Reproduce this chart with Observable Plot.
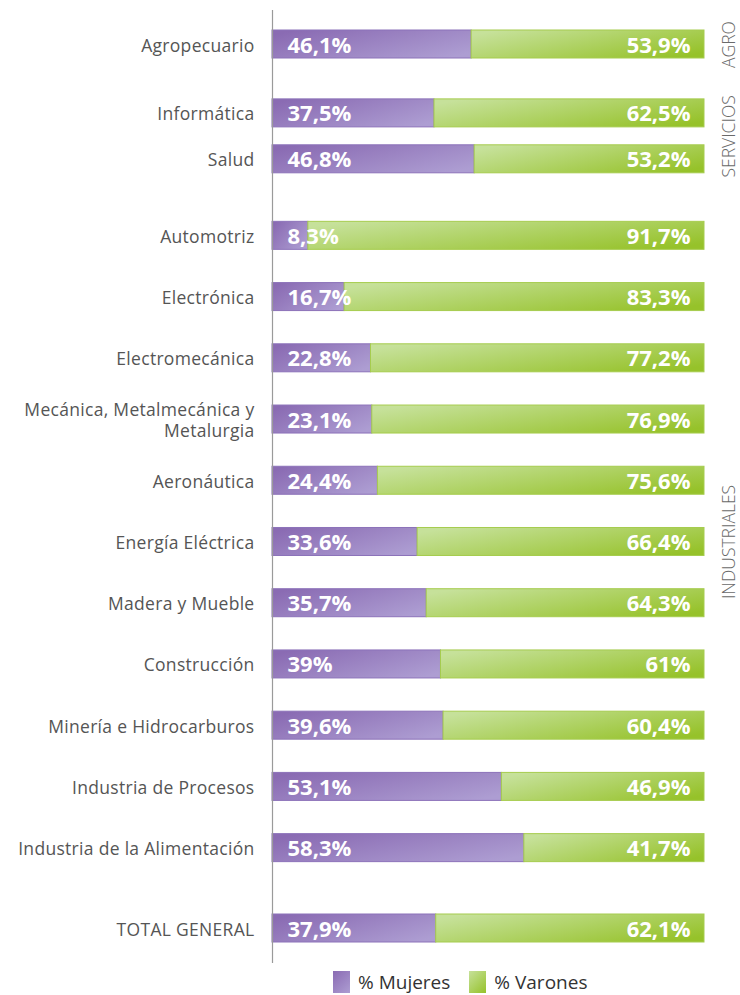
<!DOCTYPE html>
<html>
<head>
<meta charset="utf-8">
<script src="https://cdn.jsdelivr.net/npm/d3@7"></script>
<script src="https://cdn.jsdelivr.net/npm/@observablehq/plot@0.6"></script>
<style>
  body { margin: 0; background: #fff; font-family: 'Open Sans', sans-serif; }
  #chart svg { display: block; }
  #chart g[aria-label="y-axis tick label"] text { letter-spacing: 0.3px; }
  #legend { display: flex; align-items: center; margin-left: 333px; height: 27px; font-size: 19px; color: #333; }
  .sw { width: 17px; height: 22px; display: inline-block; margin-right: 8px; }
  .item { display: flex; align-items: center; margin-right: 19px; }
</style>
</head>
<body>
<div id="chart"></div>
<div id="legend">
  <span class="item"><span class="sw" style="background:linear-gradient(135deg,#8a6bb3,#ad9dd2)"></span>% Mujeres</span>
  <span class="item"><span class="sw" style="background:linear-gradient(135deg,#c6e19a,#96c22a)"></span>% Varones</span>
</div>
<script>
// ---- data ----
const categories = [
  "Agropecuario", "Informática", "Salud", "Automotriz", "Electrónica",
  "Electromecánica", "Mecánica, Metalmecánica y\nMetalurgia", "Aeronáutica",
  "Energía Eléctrica", "Madera y Mueble", "Construcción",
  "Minería e Hidrocarburos", "Industria de Procesos",
  "Industria de la Alimentación", "TOTAL GENERAL"
];
const mujeres = [46.1, 37.5, 46.8, 8.3, 16.7, 22.8, 23.1, 24.4, 33.6, 35.7, 39, 39.6, 53.1, 58.3, 37.9];
const varones = [53.9, 62.5, 53.2, 91.7, 83.3, 77.2, 76.9, 75.6, 66.4, 64.3, 61, 60.4, 46.9, 41.7, 62.1];
const groupOf = ["AGRO", "SERVICIOS", "SERVICIOS", "INDUSTRIALES", "INDUSTRIALES", "INDUSTRIALES",
  "INDUSTRIALES", "INDUSTRIALES", "INDUSTRIALES", "INDUSTRIALES", "INDUSTRIALES",
  "INDUSTRIALES", "INDUSTRIALES", "INDUSTRIALES", null];
const groups = ["AGRO", "SERVICIOS", "INDUSTRIALES"];

// ---- layout (number of empty fine slots before each row) ----
const rowGaps = [0, 17, 11, 19, 15, 15, 15, 15, 15, 15, 15, 15, 15, 15, 20];

const domain = [];
categories.forEach((c, i) => {
  for (let k = 0; k < rowGaps[i]; k++) domain.push(`_sp${i}_${k}`);
  domain.push(c);
});

const rows = categories.map((c, i) => ({cat: c, m: mujeres[i], v: varones[i], g: groupOf[i]}));

const groupRows = groups.map(g => {
  const idx = categories.map((c, i) => i).filter(i => groupOf[i] === g);
  const a = domain.indexOf(categories[idx[0]]);
  const b = domain.indexOf(categories[idx[idx.length - 1]]);
  return {g, slot: domain[Math.round((a + b) / 2)]};
});

const fmt = v => String(v).replace(".", ",") + "%";

const defsMark = () => {
  const g = d3.create("svg:g");
  const defs = g.append("defs");
  const pg = defs.append("linearGradient").attr("id", "gPurple")
    .attr("x1", "0").attr("y1", "0.2").attr("x2", "1").attr("y2", "0.8");
  pg.append("stop").attr("offset", "0").attr("stop-color", "#8a6bb3");
  pg.append("stop").attr("offset", "1").attr("stop-color", "#ad9dd2");
  const gg = defs.append("linearGradient").attr("id", "gGreen")
    .attr("x1", "0").attr("y1", "0.2").attr("x2", "1").attr("y2", "0.8");
  gg.append("stop").attr("offset", "0").attr("stop-color", "#c6e19a");
  gg.append("stop").attr("offset", "1").attr("stop-color", "#96c22a");
  return g.node();
};

const barH = 28;
const height = 968;
const marginTop = 10, marginBottom = 5;
const firstCenter = 44, lastCenter = 928;
const step = (lastCenter - firstCenter) / (domain.length - 1);
const bandsSpan = domain.length * step;
const insetTop = firstCenter - step / 2 - marginTop;
const insetBottom = (height - marginBottom - marginTop) - insetTop - bandsSpan;
const negInset = -(barH - step) / 2;

const chart = Plot.plot({
  width: 740,
  height,
  marginLeft: 272,
  marginRight: 36,
  marginTop,
  marginBottom,
  style: {fontFamily: "'Open Sans', sans-serif", background: "#fff"},
  x: {domain: [0, 100], axis: null},
  y: {type: "band", domain, padding: 0, round: false, insetTop, insetBottom, axis: null},
  marks: [
    defsMark,
    Plot.barX(rows, {y: "cat", x1: 0, x2: "m", fill: "url(#gPurple)", stroke: "#8c72b9", strokeWidth: 1,
      insetTop: negInset, insetBottom: negInset}),
    Plot.barX(rows, {y: "cat", x1: "m", x2: d => d.m + d.v, fill: "url(#gGreen)", stroke: "#a6cc4e", strokeWidth: 1,
      insetTop: negInset, insetBottom: negInset}),
    Plot.ruleX([0], {stroke: "#9a9a9a", strokeWidth: 1.2}),
    Plot.axisY({ticks: categories, tickSize: 0, tickPadding: 18, fontSize: 17.5, fill: "#555", label: null, lineHeight: 1.25}),
    Plot.text(rows, {y: "cat", x: 0, text: d => fmt(d.m), textAnchor: "start", dx: 15, dy: 1,
      fill: "white", fontSize: 22, fontWeight: "bold"}),
    Plot.text(rows, {y: "cat", x: 100, text: d => fmt(d.v), textAnchor: "end", dx: -14, dy: 1,
      fill: "white", fontSize: 22, fontWeight: "bold"}),
    Plot.text(groupRows, {y: "slot", frameAnchor: "right", text: "g", dx: 25, rotate: -90,
      textAnchor: "middle", fill: "#6a6a6a", fontSize: 17.5, fontWeight: 300})
  ]
});
document.getElementById("chart").appendChild(chart);
</script>
</body>
</html>
